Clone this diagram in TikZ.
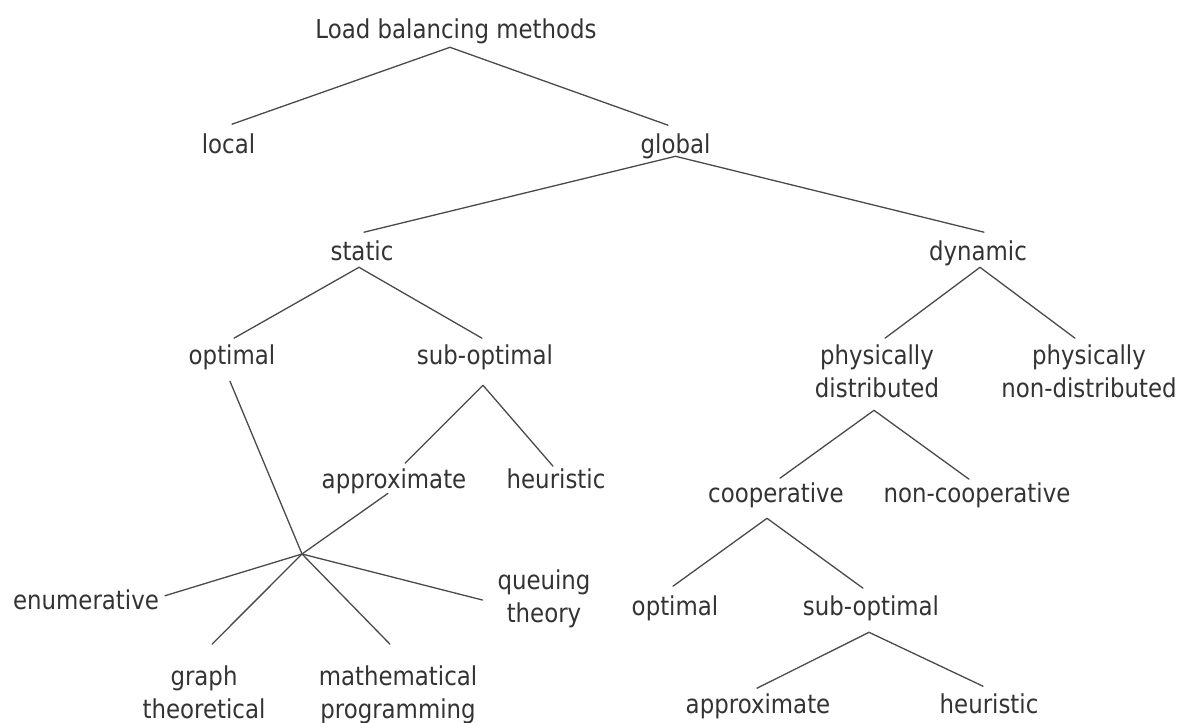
\documentclass[tikz,border=0pt]{standalone}
\usepackage{fontspec}
\setmainfont{DejaVu Sans}[FakeStretch=0.88]
\definecolor{txt}{HTML}{333333}
\definecolor{ln}{HTML}{4A4A4A}
\begin{document}
\begin{tikzpicture}[x=1pt,y=-1pt,
  lbl/.style={anchor=north,inner sep=0pt,outer sep=0pt,text=txt,font=\fontsize{26pt}{32.5pt}\selectfont},
  one/.style={lbl,text height=19.8pt,text depth=5.3pt},
  two/.style={lbl,align=center},
  edge/.style={draw=ln,line width=1.3pt,line cap=round}]
\fill[white] (0,0) rectangle (1181,723);
\useasboundingbox (0,0) rectangle (1181,723);

\node[one] (title) at (456,18.2) {Load balancing methods};
\node[one] (local) at (228.5,133.2) {local};
\node[one] (global) at (675.5,133.2) {global};
\node[one] (static) at (362,240.2) {static};
\node[one] (dynamic) at (978,240.2) {dynamic};
\node[one] (optL) at (232,344.2) {optimal};
\node[one] (subL) at (485,344.2) {sub-optimal};
\node[two] (physD) at (877,345.2) {physically\\distributed};
\node[two] (physN) at (1089,345.2) {physically\\non-distributed};
\node[one] (apprL) at (394,468.2) {approximate};
\node[one] (heurL) at (556,468.2) {heuristic};
\node[one] (enum) at (86,589.2) {enumerative};
\node[two] (queue) at (544,570.2) {queuing\\theory};
\node[two] (graph) at (204,666.2) {graph\\theoretical};
\node[two] (math) at (398,666.2) {mathematical\\programming};
\node[one] (coop) at (776,482.2) {cooperative};
\node[one] (noncoop) at (977,482.2) {non-cooperative};
\node[one] (optR) at (675,595.2) {optimal};
\node[one] (subR) at (871,595.2) {sub-optimal};
\node[one] (apprR) at (758,693.2) {approximate};
\node[one] (heurR) at (989,693.2) {heuristic};
\coordinate (hub) at (302,554);

\draw[edge] ([shift={(-6,4)}]title.south) -- ([shift={(3.5,-9)}]local.north);
\draw[edge] ([shift={(-6,4)}]title.south) -- ([shift={(-7.5,-8)}]global.north);
\draw[edge] ([shift={(0,-2)}]global.south) -- ([shift={(2,-8)}]static.north);
\draw[edge] ([shift={(0,-2)}]global.south) -- ([shift={(6,-8)}]dynamic.north);
\draw[edge] ([shift={(-3,2)}]static.south) -- ([shift={(2,-6)}]optL.north);
\draw[edge] ([shift={(-3,2)}]static.south) -- ([shift={(-3,-6)}]subL.north);
\draw[edge] ([shift={(2,2)}]dynamic.south) -- ([shift={(8,-7)}]physD.north);
\draw[edge] ([shift={(2,2)}]dynamic.south) -- ([shift={(-14,-7)}]physN.north);
\draw[edge] ([shift={(-2,16)}]subL.south) -- ([shift={(11,-5)}]apprL.north);
\draw[edge] ([shift={(-2,16)}]subL.south) -- ([shift={(-3,-2)}]heurL.north);
\draw[edge] ([shift={(-2,12)}]optL.south) -- (hub);
\draw[edge] ([shift={(-6,0)}]apprL.south) -- (hub);
\draw[edge] (hub) -- ([shift={(6,-6)}]enum.east);
\draw[edge] (hub) -- ([shift={(-15,1)}]queue.west);
\draw[edge] (hub) -- ([shift={(8,-22)}]graph.north);
\draw[edge] (hub) -- ([shift={(-8,-22)}]math.north);
\draw[edge] ([shift={(-3,12.5)}]physD.south) -- ([shift={(4,-4)}]coop.north);
\draw[edge] ([shift={(-3,12.5)}]physD.south) -- ([shift={(-8,-3)}]noncoop.north);
\draw[edge] ([shift={(-9,11)}]coop.south) -- ([shift={(-2,-9)}]optR.north);
\draw[edge] ([shift={(-9,11)}]coop.south) -- ([shift={(-8,-7)}]subR.north);
\draw[edge] ([shift={(-2,12)}]subR.south) -- ([shift={(-1,-5)}]apprR.north);
\draw[edge] ([shift={(-2,12)}]subR.south) -- ([shift={(-6,-7)}]heurR.north);
\end{tikzpicture}
\end{document}
